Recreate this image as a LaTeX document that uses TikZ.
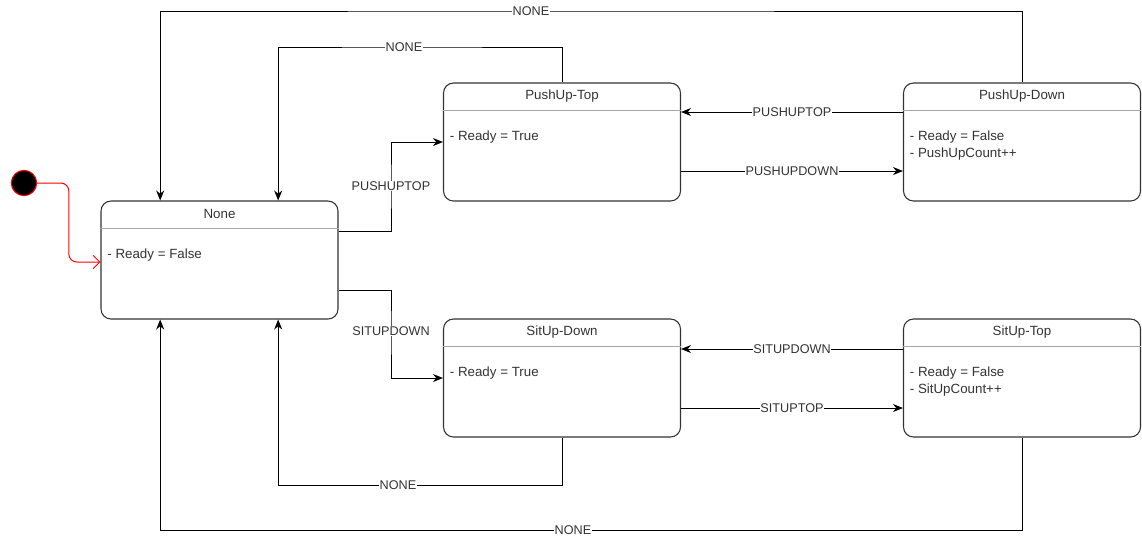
\documentclass[tikz,border=0pt]{standalone}
\usepackage{fontspec}
\setmainfont{Liberation Sans}
\usepackage{tikz}
\usetikzlibrary{arrows.meta}
\usetikzlibrary{calc}

\definecolor{boxline}{HTML}{333333}
\definecolor{hdrline}{HTML}{A6A6A6}
\definecolor{txt}{HTML}{333333}

\tikzset{
  state/.style={draw=boxline, line width=0.8pt, rounded corners=7.5pt,
    minimum width=177.75pt, minimum height=88.5pt, inner sep=0pt},
  hdr/.style={draw=hdrline, line width=0.7pt},
  ttl/.style={font=\fontsize{10}{12}\selectfont, text=txt, inner sep=0pt},
  body/.style={font=\fontsize{10}{12.75}\selectfont, text=txt, align=left,
    inner sep=0pt, anchor=north west},
  tr/.style={draw=black, line width=0.75pt, -{Stealth[length=7.5pt,width=6pt]}},
  lbl/.style={font=\fontsize{9.5}{11}\selectfont, text=txt, fill=white, inner sep=0.3pt},
  initdot/.style={circle, fill=black, draw=red, line width=0.8pt, minimum size=19pt, inner sep=0pt},
  initarr/.style={draw=red, line width=0.75pt, rounded corners=6pt,
    -{Straight Barb[length=5pt,width=10pt]}}
}

\begin{document}
\begin{tikzpicture}[x=0.75pt, y=-0.75pt]
        \useasboundingbox (0,0) rectangle (1142,537);

        % states
        \node[state] (none) at (219.5,260) {};
        \node[state] (putop) at (562,142) {};
        \node[state] (pudown) at (1022,142) {};
        \node[state] (sudown) at (562,378) {};
        \node[state] (sutop) at (1022,378) {};

        \draw[hdr] ([yshift=-21pt]none.north west) -- ([yshift=-21pt]none.north east);
        \draw[hdr] ([yshift=-21pt]putop.north west) -- ([yshift=-21pt]putop.north east);
        \draw[hdr] ([yshift=-21pt]pudown.north west) -- ([yshift=-21pt]pudown.north east);
        \draw[hdr] ([yshift=-21pt]sudown.north west) -- ([yshift=-21pt]sudown.north east);
        \draw[hdr] ([yshift=-21pt]sutop.north west) -- ([yshift=-21pt]sutop.north east);

        \node[ttl] (noneT) at ([yshift=-10pt]none.north) {None};
        \node[ttl] (putopT) at ([yshift=-10pt]putop.north) {PushUp-Top};
        \node[ttl] (pudownT) at ([yshift=-10pt]pudown.north) {PushUp-Down};
        \node[ttl] (sudownT) at ([yshift=-10pt]sudown.north) {SitUp-Down};
        \node[ttl] (sutopT) at ([yshift=-10pt]sutop.north) {SitUp-Top};

        \node[body] (noneB) at ([xshift=5pt,yshift=-36pt]none.north west) {- Ready = False};
        \node[body] (putopB) at ([xshift=5pt,yshift=-36pt]putop.north west) {- Ready = True};
        \node[body] (pudownB) at ([xshift=5pt,yshift=-36pt]pudown.north west) {- Ready = False\\- PushUpCount++};
        \node[body] (sudownB) at ([xshift=5pt,yshift=-36pt]sudown.north west) {- Ready = True};
        \node[body] (sutopB) at ([xshift=5pt,yshift=-36pt]sutop.north west) {- Ready = False\\- SitUpCount++};

        % initial state
        \node[initdot] (init) at (24,183) {};
        \draw[initarr] (init.east) -| ($(init.east)!0.5!(none.west)$) |- ([yshift=-1.5pt]none.west);

        % transitions
        \draw[tr] ([yshift=21.75pt]none.east) -| (391,186) node[lbl] {PUSHUPTOP} |- (putop.west);
        \draw[tr] ([yshift=-22.5pt]none.east) -| (391,331) node[lbl] {SITUPDOWN} |- (sudown.west);

        \draw[tr] ([yshift=-21.75pt]putop.east) -- ([yshift=-21.75pt]pudown.west) node[lbl, midway] {PUSHUPDOWN};
        \draw[tr] ([yshift=22.5pt]pudown.west) -- ([yshift=22.5pt]putop.east) node[lbl, midway] {PUSHUPTOP};
        \draw[tr] ([yshift=-22.5pt]sudown.east) -- ([yshift=-22.5pt]sutop.west) node[lbl, midway] {SITUPTOP};
        \draw[tr] ([yshift=21.75pt]sutop.west) -- ([yshift=21.75pt]sudown.east) node[lbl, midway] {SITUPDOWN};

        \draw[tr] (putop.north) |- (404,47) node[lbl] {NONE} -| ([xshift=44pt]none.north);
        \draw[tr] (pudown.north) |- (531,11) node[lbl] {NONE} -| ([xshift=-44.5pt]none.north);
        \draw[tr] (sudown.south) |- (398,485) node[lbl] {NONE} -| ([xshift=44pt]none.south);
        \draw[tr] (sutop.south) |- (573,530) node[lbl] {NONE} -| ([xshift=-44.5pt]none.south);
    \end{tikzpicture}
\end{document}
